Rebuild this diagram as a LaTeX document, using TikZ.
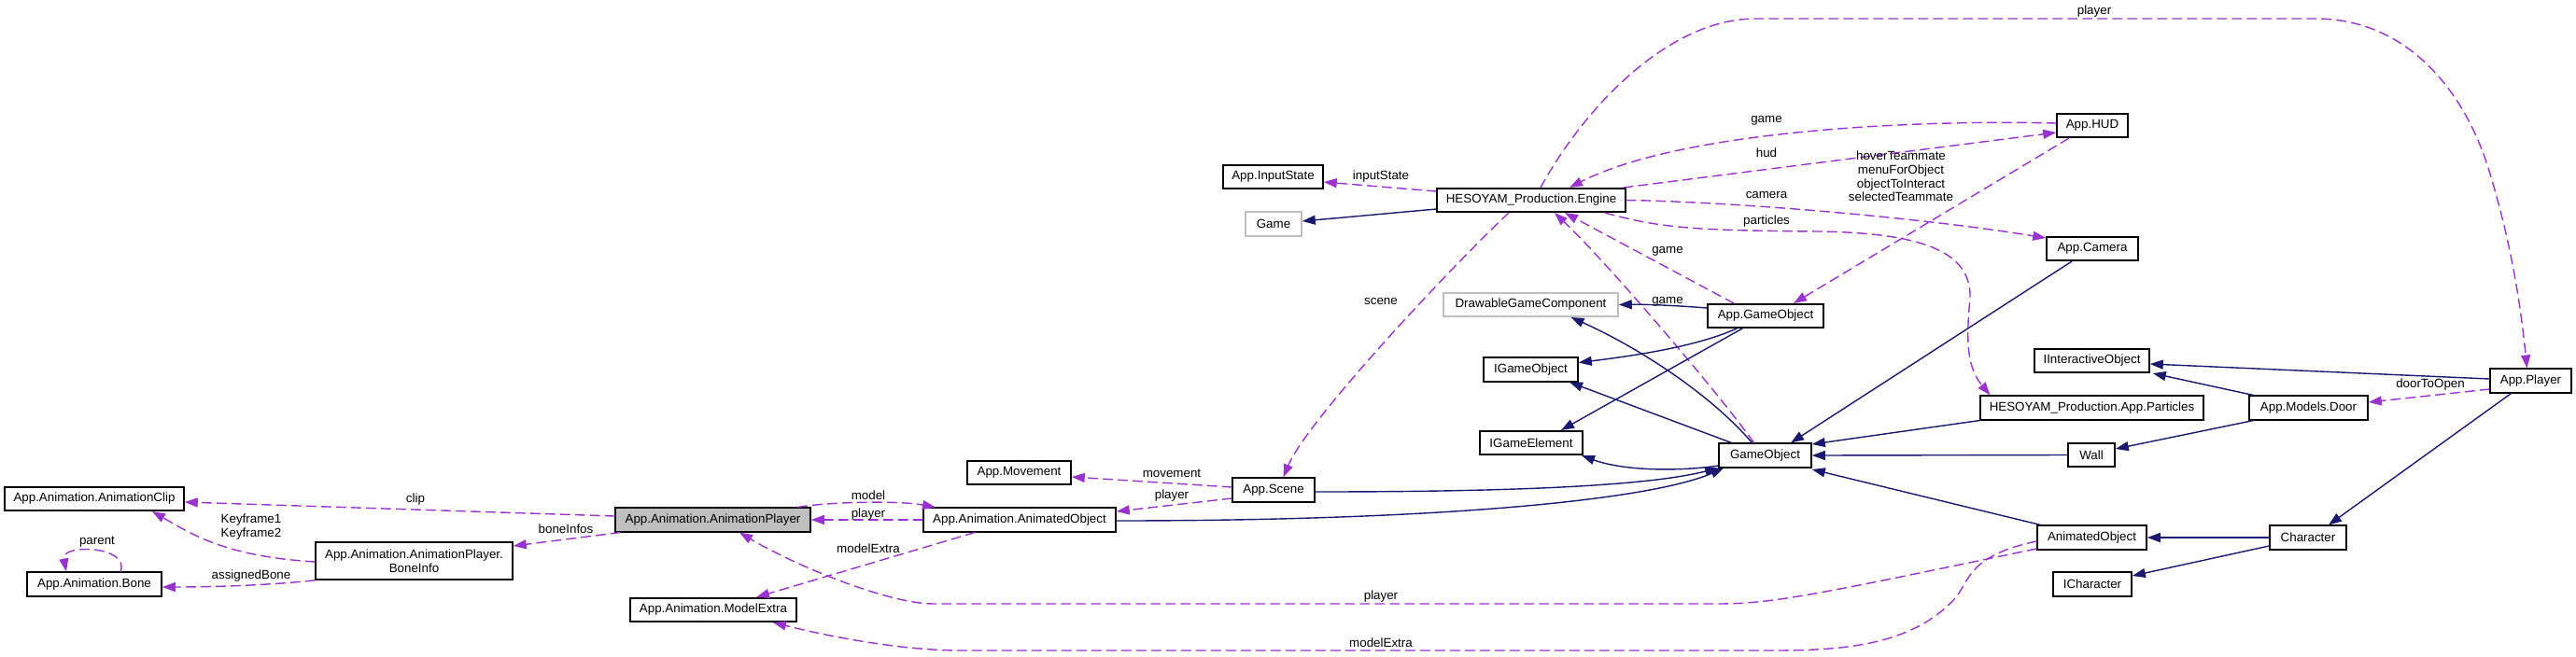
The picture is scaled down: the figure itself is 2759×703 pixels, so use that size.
\documentclass[tikz,border=0pt]{standalone}
\usepackage{fontspec}
\setmainfont{Liberation Sans}
\usetikzlibrary{arrows.meta}
\definecolor{usesedge}{RGB}{154,50,205}
\definecolor{inhedge}{RGB}{25,25,112}
\definecolor{extgray}{RGB}{191,191,191}

\begin{document}
\begin{tikzpicture}[x=0.1mm,y=-0.1mm,line cap=round,
  font=\fontsize{3.8pt}{4.2pt}\selectfont,
  cls/.style={draw=black,line width=0.45pt,fill=white,minimum height=2.55mm,inner xsep=0.5mm,inner ysep=0.3mm},
  ext/.style={cls,draw=extgray},
  uses/.style={usesedge,line width=0.4pt,dash pattern=on 1mm off 0.6mm,-{Triangle[length=1.4mm,width=1mm]}},
  inh/.style={inhedge,line width=0.4pt,-{Triangle[length=1.4mm,width=1mm]}},
  lbl/.style={inner sep=0pt,align=center}]
  \useasboundingbox (0,0) rectangle (2759,703);

  \node[cls,minimum width=19.2mm] (clip) at (101,534.5) {App.Animation.AnimationClip};
  \node[cls,minimum width=14.4mm] (bone) at (101,626) {App.Animation.Bone};
  \node[cls,minimum width=21.1mm,minimum height=4mm,align=center] (boneinfo) at (443.5,601) {App.Animation.AnimationPlayer.\\BoneInfo};
  \node[cls,fill=extgray,minimum width=20.9mm] (animplayer) at (763.5,557) {App.Animation.AnimationPlayer};
  \node[cls,minimum width=20.6mm] (animobj) at (1092,557) {App.Animation.AnimatedObject};
  \node[cls,minimum width=11.1mm] (movement) at (1091.5,506.5) {App.Movement};
  \node[cls,minimum width=17.8mm] (modelextra) at (764,653.5) {App.Animation.ModelExtra};
  \node[cls,minimum width=8.8mm] (scene) at (1364,525) {App.Scene};
  \node[cls,minimum width=10.7mm] (inputstate) at (1363.5,189.5) {App.InputState};
  \node[ext,minimum width=6mm] (game) at (1364,240) {Game};
  \node[cls,minimum width=20.2mm] (engine) at (1640,214.5) {HESOYAM\_Production.Engine};
  \node[ext,minimum width=18.7mm] (drawable) at (1639.5,326.5) {DrawableGameComponent};
  \node[cls,minimum width=10.1mm] (igameobject) at (1639.5,396) {IGameObject};
  \node[cls,minimum width=11mm] (igameelement) at (1640,474.5) {IGameElement};
  \node[cls,minimum width=9.9mm] (gameobject) at (1890.5,488) {GameObject};
  \node[cls,minimum width=12.4mm] (appgameobject) at (1891,338.5) {App.GameObject};
  \node[cls,minimum width=7.6mm] (hud) at (2241,134.5) {App.HUD};
  \node[cls,minimum width=9.8mm] (camera) at (2241,266.5) {App.Camera};
  \node[cls,minimum width=23.9mm] (particles) at (2240.5,437) {HESOYAM\_Production.App.Particles};
  \node[cls,minimum width=12.3mm] (interactive) at (2240.5,386.5) {IInteractiveObject};
  \node[cls,minimum width=5mm] (wall) at (2240,487.5) {Wall};
  \node[cls,minimum width=11.7mm] (animobjright) at (2240.5,576) {AnimatedObject};
  \node[cls,minimum width=8.4mm] (icharacter) at (2241,626) {ICharacter};
  \node[cls,minimum width=12.7mm] (door) at (2472.5,437) {App.Models.Door};
  \node[cls,minimum width=8.2mm] (character) at (2472,576) {Character};
  \node[cls,minimum width=8.7mm] (player) at (2710.5,408) {App.Player};

  \draw[uses] ([yshift=0.4mm]animplayer.west) -- ([yshift=-0.35mm]clip.east);
  \draw[uses] ([yshift=-0.1mm]boneinfo.west) .. controls (240,596) and (205,572) .. ([xshift=6.2mm]clip.south);
  \draw[uses] (boneinfo.south west) .. controls (290,627) and (230,629) .. ([yshift=-0.3mm]bone.east);
  \draw[uses] ([xshift=2.8mm]bone.north) .. controls (140,585) and (65,582) .. ([xshift=-3mm]bone.north);
  \draw[uses] ([xshift=0.6mm]animplayer.south west) -- ([yshift=1.6mm]boneinfo.east);
  \draw[uses] ([xshift=9.1mm]animplayer.north) .. controls (885,538) and (960,536) .. ([xshift=-9mm]animobj.north);
  \draw[uses] (animobj.west) -- (animplayer.east);
  \draw[uses] ([xshift=-4.8mm]animobj.south) -- ([xshift=4.6mm]modelextra.north);
  \draw[uses] ([yshift=-1.2mm]animobjright.west) .. controls (1950,636) and (1900,647) .. (1840,647) -- (1000,647) .. controls (950,647) and (850,605) .. ([xshift=2.85mm]animplayer.south);
  \draw[uses] ([yshift=-0.4mm]animobjright.west) .. controls (2110,595) and (2110,620) .. (2095,640) .. controls (2050,690) and (1980,697) .. (1900,697) -- (1030,697) .. controls (960,697) and (880,680) .. ([xshift=6.4mm]modelextra.south);
  \draw[uses] ([yshift=0.3mm]scene.west) -- ([yshift=-0.45mm]movement.east);
  \draw[uses] ([yshift=-0.9mm]scene.west) -- ([yshift=0.9mm]animobj.east);
  \draw[uses] ([xshift=-2.4mm]engine.south) .. controls (1560,280) and (1400,450) .. ([xshift=1.05mm]scene.north);
  \draw[uses] ([yshift=0.95mm]engine.west) -- ([yshift=-0.55mm]inputstate.east);
  \draw[uses] ([yshift=0.25mm]hud.west) .. controls (2050,128) and (1800,140) .. ([xshift=4.1mm]engine.north);
  \draw[uses] ([xshift=9.9mm]engine.north) -- ([yshift=-0.75mm]hud.west);
  \draw[uses] (engine.east) .. controls (1850,216) and (2050,232) .. ([yshift=1.15mm]camera.west);
  \draw[uses] ([xshift=7.9mm]engine.south) .. controls (1780,245) and (1820,247) .. (1950,248) .. controls (2060,250) and (2112,270) .. (2110,320) .. controls (2105,370) and (2108,395) .. ([xshift=-10.9mm]particles.north);
  \draw[uses] ([xshift=-2.5mm]hud.south) -- ([xshift=3mm]appgameobject.north);
  \draw[uses] ([xshift=-3.4mm]appgameobject.north) -- ([xshift=3.6mm]engine.south);
  \draw[uses] ([xshift=-1.2mm]gameobject.north) .. controls (1840,420) and (1720,280) .. ([xshift=2.5mm]engine.south);
  \draw[uses] ([xshift=1mm]engine.north) .. controls (1700,110) and (1790,20) .. (1880,20) -- (2480,20) .. controls (2580,20) and (2640,100) .. (2665,180) .. controls (2690,260) and (2700,330) .. ([xshift=-0.4mm]player.north);
  \draw[uses] ([yshift=-0.9mm]player.west) -- ([yshift=0.6mm]door.east);

  \draw[inh] ([yshift=-0.95mm]engine.west) -- ([yshift=0.3mm]game.east);
  \draw[inh] ([yshift=0.85mm]appgameobject.west) .. controls (1790,327) and (1760,326) .. (drawable.east);
  \draw[inh] ([xshift=-3.1mm]appgameobject.south) .. controls (1820,370) and (1760,380) .. ([yshift=0.75mm]igameobject.east);
  \draw[inh] ([xshift=-2.5mm]appgameobject.south) -- ([xshift=3.2mm]igameelement.north);
  \draw[inh] ([xshift=-1.4mm]gameobject.north) .. controls (1830,420) and (1750,370) .. ([xshift=4.3mm]drawable.south);
  \draw[inh] ([xshift=-3.6mm]gameobject.north) -- ([xshift=4.15mm]igameobject.south);
  \draw[inh] ([yshift=-1.1mm]gameobject.west) .. controls (1800,505) and (1740,505) .. ([xshift=5.4mm]igameelement.south);
  \draw[inh] ([yshift=-0.2mm]scene.east) .. controls (1600,527) and (1760,522) .. (gameobject.south west);
  \draw[inh] ([yshift=-0.1mm]animobj.east) .. controls (1550,558) and (1770,535) .. ([xshift=0.6mm]gameobject.south west);
  \draw[inh] ([xshift=-2.2mm]camera.south) -- ([xshift=2.75mm]gameobject.north);
  \draw[inh] (particles.south west) -- ([yshift=1.2mm]gameobject.east);
  \draw[inh] (wall.west) -- (gameobject.east);
  \draw[inh] ([xshift=-5.5mm]animobjright.north) -- ([yshift=-1.5mm]gameobject.east);
  \draw[inh] ([yshift=0.2mm]player.west) -- ([yshift=-0.35mm]interactive.east);
  \draw[inh] ([xshift=-5.9mm]door.north) -- ([xshift=0.3mm]interactive.south east);
  \draw[inh] ([xshift=-5.9mm]door.south) -- ([yshift=0.65mm]wall.east);
  \draw[inh] ([xshift=-2.1mm]player.south) -- ([xshift=2.2mm]character.north);
  \draw[inh] (character.west) -- (animobjright.east);
  \draw[inh] ([yshift=-0.9mm]character.west) -- ([yshift=0.9mm]icharacter.east);

  \node[lbl] (lclip) at (445,535) {clip};
  \node[lbl] (lkey) at (269,564.5) {Keyframe1\\Keyframe2};
  \node[lbl] (lparent) at (104,581) {parent};
  \node[lbl] (lbone) at (269,617) {assignedBone};
  \node[lbl] (linfos) at (606,567) {boneInfos};
  \node[lbl] (lmodel) at (930,531) {model};
  \node[lbl] (lplayera) at (930,551) {player};
  \node[lbl] (lextraa) at (930,588) {modelExtra};
  \node[lbl] (lmove) at (1255,507) {movement};
  \node[lbl] (lplayerb) at (1255,531) {player};
  \node[lbl] (lplayerc) at (1479,639) {player};
  \node[lbl] (lextrab) at (1479,689) {modelExtra};
  \node[lbl] (lscene) at (1479,323) {scene};
  \node[lbl] (linput) at (1479,189) {inputState};
  \node[lbl] (lgamea) at (1892,129) {game};
  \node[lbl] (lhud) at (1892,164) {hud};
  \node[lbl] (lcamera) at (1892,209) {camera};
  \node[lbl] (lparticles) at (1892,237) {particles};
  \node[lbl] (lhover) at (2036,189) {hoverTeammate\\menuForObject\\objectToInteract\\selectedTeammate};
  \node[lbl] (lgameb) at (1786,269) {game};
  \node[lbl] (lgamec) at (1786,323) {game};
  \node[lbl] (lplayerd) at (2243,12) {player};
  \node[lbl] (ldoor) at (2603,412) {doorToOpen};
\end{tikzpicture}
\end{document}
